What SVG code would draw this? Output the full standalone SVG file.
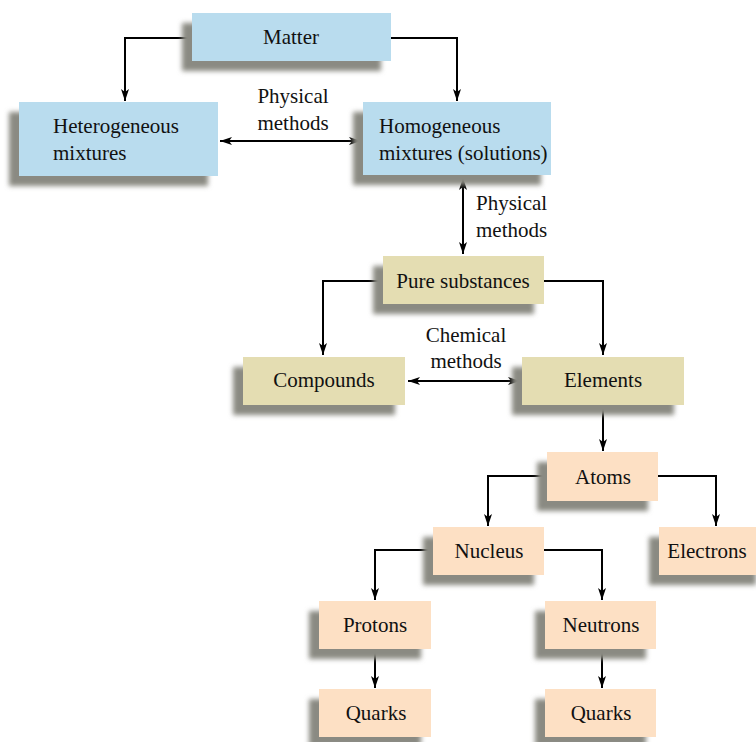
<svg xmlns="http://www.w3.org/2000/svg" width="756" height="742" viewBox="0 0 756 742">
<defs>
<filter id="sh" x="-20%" y="-40%" width="140%" height="180%">
<feGaussianBlur stdDeviation="2.5"/>
</filter>
<marker id="ar" viewBox="0 0 12 8" refX="12" refY="4" markerWidth="12" markerHeight="8" markerUnits="userSpaceOnUse" orient="auto-start-reverse">
<path d="M0,0 L12,4 L0,8 L3,4 Z" fill="#000"/>
</marker>
<style>
text{font-family:"Liberation Serif","Times New Roman","DejaVu Serif",serif;font-size:21px;fill:#111;}
.c{text-anchor:middle;}
.s{fill:#8a8a82;filter:url(#sh);}
.b{fill:#b9dcee;}
.t{fill:#e4ddb2;}
.p{fill:#fde0c4;}
.ln{fill:none;stroke:#000;stroke-width:2;}
</style>
</defs>
<rect width="756" height="742" fill="#fff"/>
<g id="connectors">
<path class="ln" d="M192,38 H125 V101" marker-end="url(#ar)"/>
<path class="ln" d="M391,38 H457 V101" marker-end="url(#ar)"/>
<path class="ln" d="M220,141 H361" marker-start="url(#ar)" marker-end="url(#ar)"/>
<path class="ln" d="M463,178 V254" marker-start="url(#ar)" marker-end="url(#ar)"/>
<path class="ln" d="M383,281 H323 V355" marker-end="url(#ar)"/>
<path class="ln" d="M544,281 H603 V355" marker-end="url(#ar)"/>
<path class="ln" d="M408,381 H520" marker-start="url(#ar)" marker-end="url(#ar)"/>
<path class="ln" d="M603,405 V451" marker-end="url(#ar)"/>
<path class="ln" d="M547,476 H488 V526" marker-end="url(#ar)"/>
<path class="ln" d="M658,476 H716 V526" marker-end="url(#ar)"/>
<path class="ln" d="M433,550 H375 V600" marker-end="url(#ar)"/>
<path class="ln" d="M544,550 H602 V600" marker-end="url(#ar)"/>
<path class="ln" d="M375,649 V688" marker-end="url(#ar)"/>
<path class="ln" d="M602,649 V688" marker-end="url(#ar)"/>
<text class="c" x="293" y="103">Physical</text>
<text class="c" x="293" y="130">methods</text>
<text x="476" y="210">Physical</text>
<text x="476" y="237">methods</text>
<text class="c" x="466" y="342">Chemical</text>
<text class="c" x="466" y="368">methods</text>
</g>
<g id="matter"><rect class="s" x="182" y="23" width="199" height="48"/><rect class="b" x="192" y="13" width="199" height="48"/><text class="c" x="291" y="44">Matter</text></g>
<g id="heterogeneous"><rect class="s" x="9" y="112" width="199" height="74"/><rect class="b" x="19" y="102" width="199" height="74"/><text x="53" y="133">Heterogeneous</text><text x="53" y="160">mixtures</text></g>
<g id="homogeneous"><rect class="s" x="353" y="112" width="188" height="73"/><rect class="b" x="363" y="102" width="188" height="73"/><text x="379" y="133">Homogeneous</text><text x="379" y="160">mixtures (solutions)</text></g>
<g id="pure"><rect class="s" x="373" y="266" width="161" height="48"/><rect class="t" x="383" y="256" width="161" height="48"/><text class="c" x="463" y="288">Pure substances</text></g>
<g id="compounds"><rect class="s" x="233" y="367" width="162" height="48"/><rect class="t" x="243" y="357" width="162" height="48"/><text class="c" x="324" y="387">Compounds</text></g>
<g id="elements"><rect class="s" x="512" y="367" width="162" height="48"/><rect class="t" x="522" y="357" width="162" height="48"/><text class="c" x="603" y="387">Elements</text></g>
<g id="atoms"><rect class="s" x="537" y="462" width="111" height="49"/><rect class="p" x="547" y="452" width="111" height="49"/><text class="c" x="603" y="484">Atoms</text></g>
<g id="nucleus"><rect class="s" x="423" y="537" width="111" height="48"/><rect class="p" x="433" y="527" width="111" height="48"/><text class="c" x="489" y="558">Nucleus</text></g>
<g id="electrons"><rect class="s" x="649" y="537" width="107" height="48"/><rect class="p" x="659" y="527" width="97" height="48"/><text class="c" x="707" y="558">Electrons</text></g>
<g id="protons"><rect class="s" x="309" y="611" width="112" height="48"/><rect class="p" x="319" y="601" width="112" height="48"/><text class="c" x="375" y="632">Protons</text></g>
<g id="neutrons"><rect class="s" x="535" y="611" width="111" height="48"/><rect class="p" x="545" y="601" width="111" height="48"/><text class="c" x="601" y="632">Neutrons</text></g>
<g id="quarks1"><rect class="s" x="309" y="699" width="112" height="48"/><rect class="p" x="319" y="689" width="112" height="48"/><text class="c" x="376" y="720">Quarks</text></g>
<g id="quarks2"><rect class="s" x="535" y="699" width="111" height="48"/><rect class="p" x="545" y="689" width="111" height="48"/><text class="c" x="601" y="720">Quarks</text></g>
</svg>
